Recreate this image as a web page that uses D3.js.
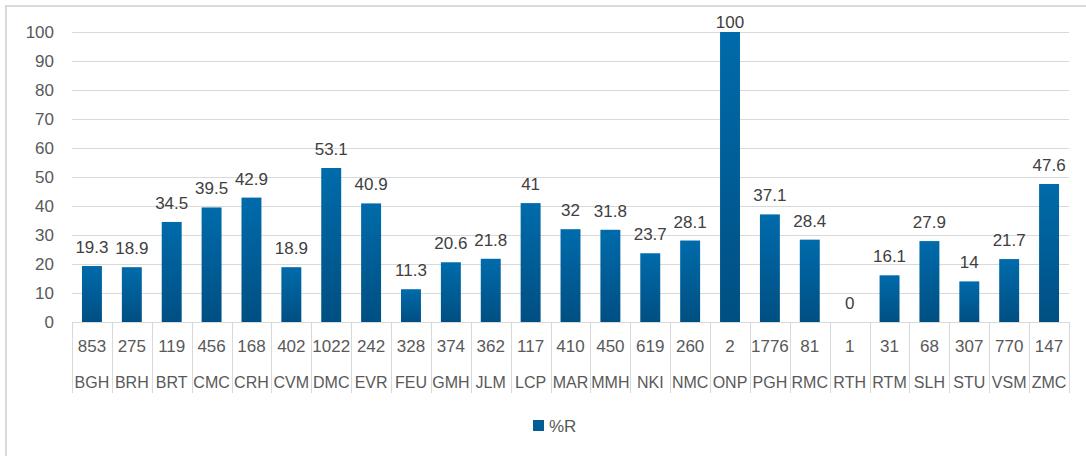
<!DOCTYPE html>
<html>
<head>
<meta charset="utf-8">
<script src="https://cdn.jsdelivr.net/npm/d3@7"></script>
<style>
html,body{margin:0;padding:0;background:#fff;}
svg{display:block;}
text{font-family:"Liberation Sans",Arial,sans-serif;fill:#595959;}
</style>
</head>
<body>
<svg id="chart" width="1086" height="456"></svg>
<script>
const categories = ["BGH","BRH","BRT","CMC","CRH","CVM","DMC","EVR","FEU","GMH","JLM","LCP","MAR","MMH","NKI","NMC","ONP","PGH","RMC","RTH","RTM","SLH","STU","VSM","ZMC"];
const counts = [853,275,119,456,168,402,1022,242,328,374,362,117,410,450,619,260,2,1776,81,1,31,68,307,770,147];
const pctR = [19.3,18.9,34.5,39.5,42.9,18.9,53.1,40.9,11.3,20.6,21.8,41,32,31.8,23.7,28.1,100,37.1,28.4,0,16.1,27.9,14,21.7,47.6];
const yTicks = [0,10,20,30,40,50,60,70,80,90,100];
const seriesName = "%R";

(function(){
const svg = d3.select("#chart");
const W = 1086, H = 456;
const pLeft = 72, pRight = 1069, pTop = 32, pBottom = 322;

// outer border
svg.append("path").attr("d", `M6,${H} L6,6 L${W},6`)
  .attr("fill","none").attr("stroke","#d9d9d9").attr("stroke-width",2);

const x = d3.scaleBand().domain(categories).range([pLeft,pRight]).paddingInner(0).paddingOuter(0);
const y = d3.scaleLinear().domain([0,100]).range([pBottom,pTop]);

// gridlines
svg.append("g").selectAll("line").data(yTicks).join("line")
  .attr("x1",pLeft).attr("x2",pRight)
  .attr("y1",d=>Math.round(y(d))+0.5).attr("y2",d=>Math.round(y(d))+0.5)
  .attr("stroke","#d9d9d9").attr("stroke-width",1);

// y axis labels
const yAxis = d3.axisLeft(y).tickValues(yTicks).tickSize(0).tickPadding(0);
const ya = svg.append("g").attr("transform",`translate(54,0)`).call(yAxis);
ya.select(".domain").remove();
ya.selectAll("text").style("font-size","17px").attr("fill","#595959")
  .style("font-family","'Liberation Sans',Arial,sans-serif");

// gradient
const defs = svg.append("defs");
const grad = defs.append("linearGradient").attr("id","barGrad").attr("x1",0).attr("y1",0).attr("x2",0).attr("y2",1);
grad.append("stop").attr("offset","0%").attr("stop-color","#006bab");
grad.append("stop").attr("offset","100%").attr("stop-color","#004f82");

const bw = x.bandwidth()*0.5;
svg.append("g").selectAll("rect").data(categories).join("rect")
  .attr("x",(d)=>x(d)+(x.bandwidth()-bw)/2)
  .attr("y",(d,i)=>y(pctR[i]))
  .attr("width",bw)
  .attr("height",(d,i)=>y(0)-y(pctR[i]))
  .attr("fill","url(#barGrad)");

// data labels
svg.append("g").selectAll("text").data(categories).join("text")
  .attr("x",d=>x(d)+x.bandwidth()/2)
  .attr("y",(d,i)=>Math.max(y(pctR[i])-13, 28))
  .attr("text-anchor","middle")
  .style("font-size","17px")
  .style("fill","#404040")
  .text((d,i)=>pctR[i]);

// category table
const tbl = svg.append("g");
const bounds = categories.map(d=>x(d)).concat([pRight]);
tbl.selectAll("line.v").data(bounds).join("line")
  .attr("x1",d=>Math.round(d)+0.5).attr("x2",d=>Math.round(d)+0.5)
  .attr("y1",pBottom).attr("y2",393)
  .attr("stroke","#d9d9d9").attr("stroke-width",1);
tbl.selectAll("text.n").data(categories).join("text").attr("class","n")
  .attr("x",d=>x(d)+x.bandwidth()/2).attr("y",352)
  .attr("text-anchor","middle").style("font-size","17px")
  .text((d,i)=>counts[i]);
tbl.selectAll("text.c").data(categories).join("text").attr("class","c")
  .attr("x",d=>x(d)+x.bandwidth()/2).attr("y",388)
  .attr("text-anchor","middle").style("font-size","16px")
  .text(d=>d);

// legend
const lg = svg.append("g");
lg.append("rect").attr("x",533).attr("y",420).attr("width",11).attr("height",11).attr("fill","#005d96");
lg.append("text").attr("x",549).attr("y",432).style("font-size","17px").text(seriesName);
})();
</script>
</body>
</html>
